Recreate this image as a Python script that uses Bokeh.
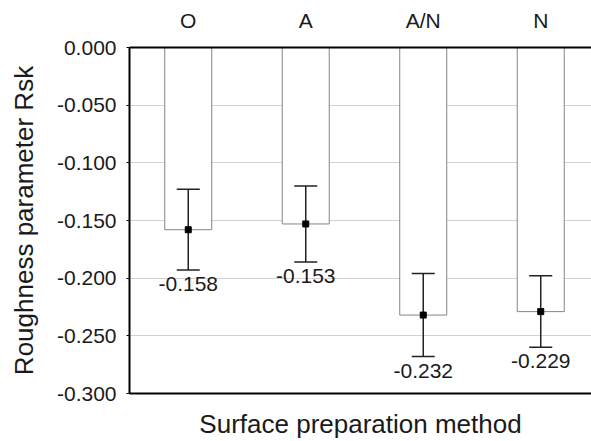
from bokeh.plotting import figure
from bokeh.models import (LinearAxis, FixedTicker, NumeralTickFormatter, Range1d,
                          ColumnDataSource)
from bokeh.core.properties import value
from bokeh.embed import file_html
from bokeh.resources import INLINE

# Data
categories = ["O", "A", "A/N", "N"]
means = [-0.158, -0.153, -0.232, -0.229]
errors = [0.035, 0.033, 0.036, 0.031]
value_labels = ["-0.158", "-0.153", "-0.232", "-0.229"]
y_ticks = [0.0, -0.05, -0.10, -0.15, -0.20, -0.25, -0.30]

FONT = "Liberation Sans"

xs = list(range(1, len(categories) + 1))
upper = [m + e for m, e in zip(means, errors)]
lower = [m - e for m, e in zip(means, errors)]
cap_half = 0.098
src = ColumnDataSource(dict(
    x=xs, mean=means, upper=upper, lower=lower,
    cl=[x - cap_half for x in xs], cr=[x + cap_half for x in xs],
    zero=[0.0] * len(xs), lab=value_labels,
))

p = figure(width=591, height=441, output_backend="svg", toolbar_location=None,
           x_range=Range1d(0.5, 4.432), y_range=Range1d(-0.300, 0.000),
           min_border_left=129, min_border_right=0, min_border_top=47,
           min_border_bottom=45)
p.outline_line_color = None
p.background_fill_color = "white"
p.border_fill_color = "white"

# Grid
p.xgrid.visible = False
p.ygrid.ticker = FixedTicker(ticks=y_ticks)
p.ygrid.grid_line_color = "#d2d2d2"
p.ygrid.grid_line_width = 1

# Left axis
ya = p.yaxis[0]
ya.ticker = FixedTicker(ticks=y_ticks)
ya.formatter = NumeralTickFormatter(format="0.000")
ya.major_label_text_font = FONT
ya.major_label_text_font_size = "21px"
ya.major_label_text_color = "#1a1a1a"
ya.major_tick_out = 3
ya.major_tick_in = 0
ya.minor_tick_out = 0
ya.minor_tick_in = 0
ya.axis_line_width = 2
ya.axis_line_color = "black"
ya.major_tick_line_color = "black"
ya.major_label_standoff = 10
ya.axis_label = "Roughness parameter Rsk"
ya.axis_label_text_font = FONT
ya.axis_label_text_font_size = "26px"
ya.axis_label_text_font_style = "normal"
ya.axis_label_text_color = "#1a1a1a"
ya.axis_label_standoff = 15

# Bottom axis (label only)
xa = p.xaxis[0]
xa.ticker = FixedTicker(ticks=[])
xa.major_label_text_font_size = "0px"
xa.major_tick_out = 0
xa.major_tick_in = 0
xa.minor_tick_out = 0
xa.minor_tick_in = 0
xa.axis_line_width = 2
xa.axis_line_color = "black"
xa.axis_label = "Surface preparation method"
xa.axis_label_text_font = FONT
xa.axis_label_text_font_size = "26px"
xa.axis_label_text_font_style = "normal"
xa.axis_label_text_color = "#1a1a1a"
xa.axis_label_standoff = 15

# Top axis with categories
top = LinearAxis(ticker=FixedTicker(ticks=xs),
                 major_label_overrides={x: c for x, c in zip(xs, categories)})
top.major_label_text_font = FONT
top.major_label_text_font_size = "21px"
top.major_label_text_color = "#1a1a1a"
top.major_tick_out = 0
top.major_tick_in = 0
top.minor_tick_out = 0
top.minor_tick_in = 0
top.axis_line_width = 2
top.axis_line_color = "black"
top.major_label_standoff = 16
p.add_layout(top, "above")

# Bars hanging from zero
p.vbar(x="x", top="zero", bottom="mean", width=0.4, source=src,
       fill_color="white", line_color="#858585", line_width=1)

# Error bars
p.segment(x0="x", y0="lower", x1="x", y1="upper", source=src,
          line_color="#222222", line_width=1.5)
p.segment(x0="cl", y0="upper", x1="cr", y1="upper", source=src,
          line_color="#222222", line_width=1.5)
p.segment(x0="cl", y0="lower", x1="cr", y1="lower", source=src,
          line_color="#222222", line_width=1.5)
p.scatter(x="x", y="mean", source=src, marker="square", size=6,
          fill_color="black", line_color="black")

# Value labels
p.text(x="x", y="lower", text="lab", source=src, text_align="center",
       text_baseline="top", y_offset=7, text_font=value(FONT),
       text_font_size="21px", text_color="#1a1a1a")

open("out.html", "w").write(file_html(p, INLINE))
